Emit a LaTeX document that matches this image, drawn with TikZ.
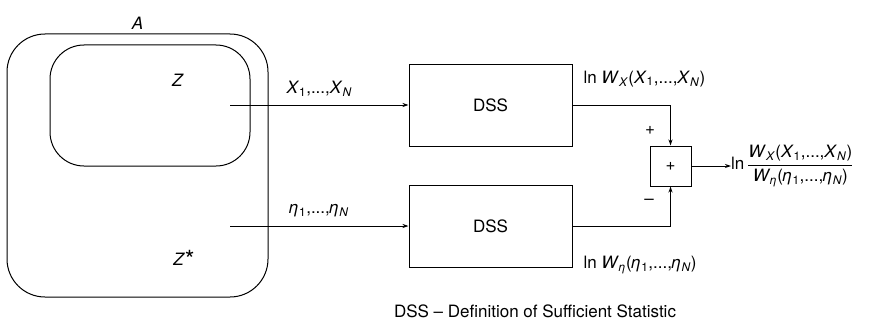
\documentclass[tikz,border=0pt]{standalone}
\usepackage{amsmath}
\usepackage{fontspec}
\setmainfont{TeX Gyre Heros}
\usetikzlibrary{arrows.meta, calc, positioning}

% kursive Symbole im Fliesstext
\newcommand{\iv}[1]{\textit{#1}}
\newcommand{\sub}[1]{\textsubscript{#1}}

\begin{document}
\begin{tikzpicture}[
    x=1pt, y=-1pt,               % Pixelraster, y nach unten
    font=\fontsize{17}{21}\selectfont,
    set/.style={draw, line width=1pt, rounded corners=38pt},
    block/.style={draw, line width=1pt, minimum width=163pt, minimum height=82pt},
    summer/.style={draw, line width=1pt, minimum width=41pt, minimum height=40pt, inner sep=0pt},
    arrow/.style={-{Stealth[length=6pt,width=4pt]}, line width=1pt}
  ]
  \useasboundingbox (0,0) rectangle (874,329);

  % Mengen A, Z und Z*
  \node[set, minimum width=261pt, minimum height=263pt] (setA) at (137.5,165.5) {};
  \node[above] at (setA.north) {\iv{A}};
  \node[set, minimum width=200pt, minimum height=121pt, rounded corners=34pt] (setZ) at (150,105.5) {};
  \node (lblZ)  at (178,80)  {\iv{Z}};
  \node (lblZs) at (184,259) {\iv{Z}\raisebox{-3pt}{\fontsize{25}{25}\selectfont *}};

  % Bloecke
  \node[block]  (dss1) at (490.5,105) {DSS};
  \node[block]  (dss2) at (490.5,226) {DSS};
  \node[summer] (sum)  at (670.5,166) {+};

  \coordinate (inX)   at (230,105);
  \coordinate (inEta) at (230,226);
  \coordinate (out)   at (731,166);

  \draw[arrow] (inX) -- node[above=5pt] {\iv{X}\sub{1},...,\iv{X}\sub{\iv{N}}} (dss1);
  \draw[arrow] (inEta) -- node[above=5pt] {\iv{η}\sub{1},...,\iv{η}\sub{\iv{N}}} (dss2);
  \draw[arrow] (dss1.east) -| (sum.north);
  \draw[arrow] (dss2.east) -| (sum.south);
  \draw[arrow] (sum.east) -- (out);

  % Beschriftungen
  \node[anchor=west] (lnX)   at (580,79)  {ln \iv{W}\sub{\iv{X}}(\iv{X}\sub{1},...,\iv{X}\sub{\iv{N}})};
  \node[anchor=west] (lnEta) at (580,265) {ln \iv{W}\sub{\iv{η}}(\iv{η}\sub{1},...,\iv{η}\sub{\iv{N}})};
  \node (plus)  at (650,130) {+};
  \node (minus) at (649,202) {–};
  \node[anchor=west, inner sep=0pt] (ratio) at (out) {ln\,$\dfrac{\text{\iv{W}\sub{\iv{X}}(\iv{X}\sub{1},...,\iv{X}\sub{\iv{N}})}}{\text{\iv{W}\sub{\iv{η}}(\iv{η}\sub{1},...,\iv{η}\sub{\iv{N}})}}$};

  \node (caption) at (535,311) {DSS – Definition of Sufficient Statistic};

\end{tikzpicture}
\end{document}
